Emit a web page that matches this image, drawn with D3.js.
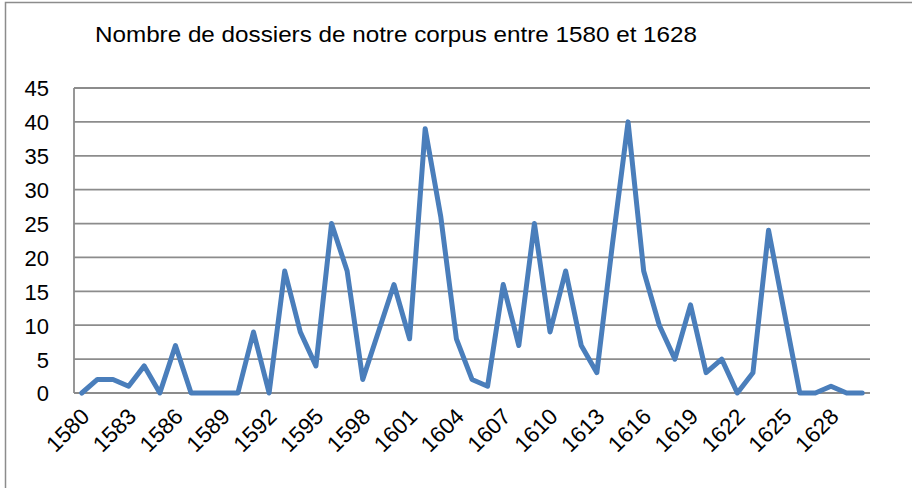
<!DOCTYPE html>
<html>
<head>
<meta charset="utf-8">
<script src="https://cdn.jsdelivr.net/npm/d3@7/dist/d3.min.js"></script>
<style>
  html, body { margin: 0; padding: 0; background: #fff; }
  svg { display: block; }
  text { font-family: "Liberation Sans", Arial, sans-serif; fill: #000; }
</style>
</head>
<body>
<svg id="chart" width="912" height="488"></svg>
<script>
// ---- data ----
const title = "Nombre de dossiers de notre corpus entre 1580 et 1628";
const years = d3.range(1580, 1631);
const counts = [0, 2, 2, 1, 4, 0, 7, 0, 0, 0,
                0, 9, 0, 18, 9, 4, 25, 18, 2, 9,
                16, 8, 39, 26, 8, 2, 1, 16, 7, 25,
                9, 18, 7, 3, 22, 40, 18, 10, 5, 13,
                3, 5, 0, 3, 24, 12, 0, 0, 1, 0,
                0];
const yTicks = [0, 5, 10, 15, 20, 25, 30, 35, 40, 45];
const xTickYears = years.filter((yr, i) => i % 3 === 0 && yr <= 1628);

// ---- layout ----
const svg = d3.select("#chart");
const plotLeft = 74, plotRight = 870, plotTop = 88, plotBottom = 393;

// outer chart border
svg.append("rect")
  .attr("x", 5.5).attr("y", 2.5)
  .attr("width", 1000).attr("height", 1000)
  .attr("fill", "none").attr("stroke", "#8c8c8c").attr("stroke-width", 1.5);

const x = d3.scaleBand().domain(years).range([plotLeft, plotRight]);
const y = d3.scaleLinear().domain([0, 45]).range([plotBottom, plotTop]);

// gridlines
svg.append("g")
  .selectAll("line")
  .data(yTicks)
  .join("line")
  .attr("x1", plotLeft).attr("x2", plotRight)
  .attr("y1", d => y(d)).attr("y2", d => y(d))
  .attr("stroke", "#8c8c8c").attr("stroke-width", 1.8);

// y axis line
svg.append("line")
  .attr("x1", plotLeft).attr("x2", plotLeft)
  .attr("y1", plotTop).attr("y2", plotBottom)
  .attr("stroke", "#8c8c8c").attr("stroke-width", 1.8);

// y axis labels
const yAxis = d3.axisLeft(y).tickValues(yTicks).tickSize(0).tickPadding(0);
const gy = svg.append("g").attr("transform", `translate(${plotLeft - 25},0)`).call(yAxis);
gy.select(".domain").remove();
gy.selectAll("text")
  .attr("font-family", "Liberation Sans, Arial, sans-serif")
  .attr("font-size", 22)
  .attr("fill", "#000")
  .attr("dy", "0.36em");

// x axis labels
const xAxis = d3.axisBottom(x).tickValues(xTickYears).tickSize(0).tickPadding(0);
const gx = svg.append("g").attr("transform", `translate(0,${plotBottom})`).call(xAxis);
gx.select(".domain").remove();
gx.selectAll("text")
  .attr("font-family", "Liberation Sans, Arial, sans-serif")
  .attr("font-size", 22.5)
  .attr("fill", "#000")
  .attr("text-anchor", "end")
  .attr("dy", null)
  .attr("y", 0)
  .attr("transform", "translate(9,25) rotate(-45)");

// line
const line = d3.line()
  .x((d, i) => x(years[i]) + x.bandwidth() / 2)
  .y(d => y(d));
svg.append("path")
  .datum(counts)
  .attr("d", line)
  .attr("fill", "none")
  .attr("stroke", "#4a7ebb")
  .attr("stroke-width", 5)
  .attr("stroke-linejoin", "round")
  .attr("stroke-linecap", "round");

// title
svg.append("text")
  .attr("x", 95).attr("y", 42)
  .attr("font-size", 21.5)
  .attr("textLength", 602)
  .attr("lengthAdjust", "spacingAndGlyphs")
  .text(title);
</script>
</body>
</html>
